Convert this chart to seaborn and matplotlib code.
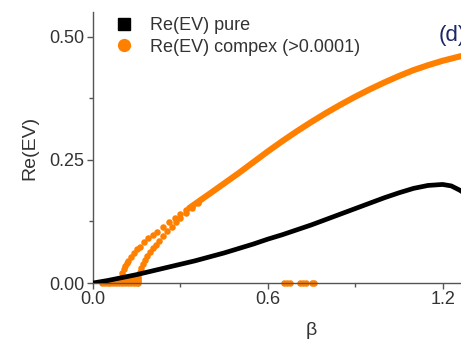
import matplotlib
matplotlib.use("Agg")
import matplotlib.pyplot as plt
from matplotlib.lines import Line2D
import seaborn as sns
import pandas as pd

# Real part of the purely real eigenvalue branch
pure_beta = [0.00, 0.05, 0.10, 0.15, 0.20, 0.25, 0.30, 0.35, 0.40, 0.45, 0.50,
             0.55, 0.60, 0.65, 0.70, 0.75, 0.80, 0.85, 0.90, 0.95, 1.00, 1.05,
             1.10, 1.15, 1.20, 1.23, 1.26, 1.30]
pure_val = [0.000, 0.005, 0.011, 0.017, 0.024, 0.031, 0.038, 0.045, 0.053, 0.061,
            0.070, 0.079, 0.089, 0.098, 0.108, 0.118, 0.129, 0.140, 0.151, 0.162,
            0.173, 0.183, 0.192, 0.198, 0.200, 0.197, 0.188, 0.172]

# Real part of complex eigenvalues: main (merged) branch
cplx_beta = [0.33, 0.40, 0.45, 0.50, 0.55, 0.60, 0.65, 0.70, 0.75, 0.80, 0.85,
             0.90, 0.95, 1.00, 1.05, 1.10, 1.15, 1.20, 1.26, 1.30]
cplx_val = [0.152, 0.181, 0.202, 0.223, 0.245, 0.267, 0.288, 0.308, 0.327, 0.345,
            0.362, 0.378, 0.393, 0.407, 0.420, 0.432, 0.442, 0.451, 0.460, 0.465]

# Outer onset branch (sampled points)
outer_beta = [0.095, 0.100, 0.105, 0.110, 0.115, 0.120, 0.130, 0.140, 0.150,
              0.160, 0.175, 0.190, 0.205, 0.220, 0.240, 0.260, 0.280, 0.300,
              0.320, 0.340, 0.360]
outer_val = [0.008, 0.020, 0.028, 0.035, 0.040, 0.045, 0.053, 0.061, 0.068,
             0.074, 0.083, 0.091, 0.098, 0.104, 0.114, 0.123, 0.132, 0.140,
             0.148, 0.157, 0.165]

# Inner onset branch (sampled points)
inner_beta = [0.155, 0.160, 0.165, 0.170, 0.178, 0.186, 0.195, 0.205, 0.215,
              0.225, 0.240, 0.255, 0.270, 0.285, 0.300, 0.320, 0.340, 0.360]
inner_val = [0.010, 0.022, 0.031, 0.038, 0.047, 0.055, 0.063, 0.071, 0.078,
             0.085, 0.095, 0.105, 0.114, 0.123, 0.131, 0.142, 0.152, 0.162]

# Low-lying complex eigenvalues under the pure branch
low_beta = [0.03, 0.04, 0.05, 0.06, 0.07, 0.08, 0.09, 0.10, 0.11, 0.12, 0.13,
            0.14, 0.15, 0.155,
            0.06, 0.07, 0.08, 0.09, 0.10, 0.11, 0.12, 0.13, 0.14, 0.15, 0.155,
            0.09, 0.10, 0.11, 0.12, 0.13, 0.14, 0.15, 0.155,
            0.12, 0.13, 0.14, 0.15, 0.155,
            0.655, 0.665, 0.675, 0.71, 0.72, 0.73, 0.75, 0.76]
low_val = [0.001, 0.001, 0.001, 0.001, 0.001, 0.001, 0.001, 0.001, 0.001,
           0.001, 0.001, 0.001, 0.001, 0.001,
           0.004, 0.004, 0.004, 0.004, 0.004, 0.004, 0.004, 0.004, 0.004,
           0.004, 0.004,
           0.007, 0.007, 0.007, 0.007, 0.007, 0.007, 0.007, 0.007,
           0.010, 0.010, 0.010, 0.011, 0.012,
           0.001, 0.001, 0.001, 0.001, 0.001, 0.001, 0.001, 0.001]

ORANGE = "#ff8000"
AXCOL = "#555555"
TXTCOL = "#333333"

sns.set_theme(style="ticks")
plt.rcParams["font.family"] = ["Liberation Sans", "DejaVu Sans"]

fig = plt.figure(figsize=(4.61, 3.48), dpi=100)
ax = fig.add_axes([93 / 461, 65 / 348, 437 / 461, 271 / 348])

pure = pd.DataFrame({"beta": pure_beta, "val": pure_val})
main = pd.DataFrame({"beta": cplx_beta, "val": cplx_val})
dots = pd.DataFrame({"beta": outer_beta + inner_beta + low_beta,
                     "val": outer_val + inner_val + low_val})

sns.scatterplot(data=dots, x="beta", y="val", color=ORANGE, s=22,
                linewidth=0, ax=ax, clip_on=False, zorder=2)
sns.lineplot(data=main, x="beta", y="val", color=ORANGE, lw=4.4, ax=ax,
             zorder=2)
sns.lineplot(data=pure, x="beta", y="val", color="black", lw=3.4, ax=ax,
             zorder=3)

ax.set_xlim(0, 1.5)
ax.set_ylim(0, 0.55)
ax.set_xticks([0.0, 0.6, 1.2])
ax.set_xticks([0.3, 0.9], minor=True)
ax.set_yticks([0.0, 0.25, 0.5])
ax.set_yticks([0.125, 0.375], minor=True)
ax.set_xticklabels(["0.0", "0.6", "1.2"])
ax.set_yticklabels(["0.00", "0.25", "0.50"])

for side in ("top", "right"):
    ax.spines[side].set_visible(False)
for side in ("left", "bottom"):
    ax.spines[side].set_color(AXCOL)
    ax.spines[side].set_linewidth(1.0)

ax.tick_params(which="major", direction="out", length=4, width=1.0,
               color=AXCOL, labelsize=13, labelcolor=TXTCOL, pad=2)
ax.tick_params(which="minor", direction="out", length=3, width=1.0,
               color=AXCOL)

ax.set_xlabel("β", fontsize=14, color=TXTCOL, labelpad=10)
ax.set_ylabel("Re(EV)", fontsize=14, color=TXTCOL, labelpad=8)

handles = [
    Line2D([], [], ls="none", marker="s", ms=8.5, color="black"),
    Line2D([], [], ls="none", marker="o", ms=8.5, color=ORANGE, mec=ORANGE),
]
fig.legend(handles, ["Re(EV) pure", "Re(EV) compex (>0.0001)"],
           loc="upper left", bbox_to_anchor=(115 / 461, 1 - 17 / 348),
           frameon=False, fontsize=13, handlelength=1.0, handletextpad=0.95,
           labelspacing=0.25, borderpad=0, borderaxespad=0,
           labelcolor=TXTCOL)

fig.text(439 / 461, 1 - 36 / 348, "(d)", fontsize=16, color="#1c2766",
         ha="left", va="center")

fig.savefig("out.png", dpi=100)
